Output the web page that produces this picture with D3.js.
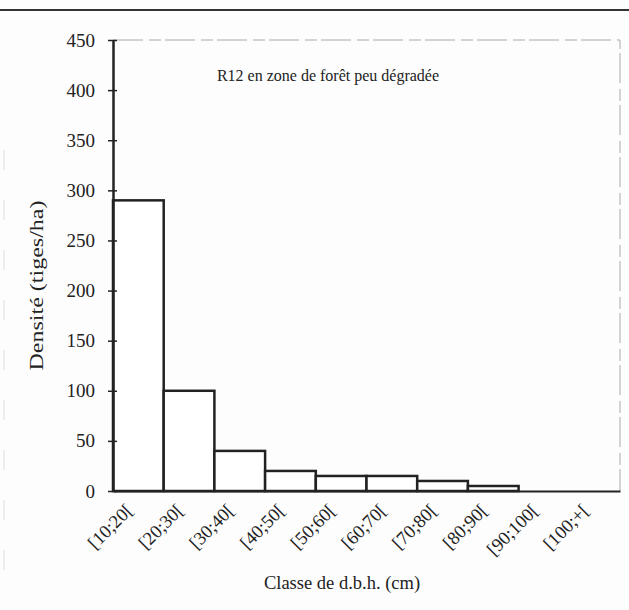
<!DOCTYPE html>
<html>
<head>
<meta charset="utf-8">
<script src="https://cdn.jsdelivr.net/npm/d3@7"></script>
<style>
	body { margin: 0; background: #fdfdfd; }
	svg { display: block; }
	text { font-family: "Liberation Serif", "Times New Roman", serif; fill: #222; }
</style>
</head>
<body>
<div id="chart"><svg width="629" height="610"></svg></div>
<script>

var classes = ["[10;20[", "[20;30[", "[30;40[", "[40;50[", "[50;60[", "[60;70[", "[70;80[", "[80;90[", "[90;100[", "[100;+["];
var densite = [290, 100, 40, 20, 15, 15, 10, 5, 0, 0];
var yTicks = [0, 50, 100, 150, 200, 250, 300, 350, 400, 450];

var titre = "R12 en zone de forêt peu dégradée";
var xTitre = "Classe de d.b.h. (cm)";
var yTitre = "Densité (tiges/ha)";

var margin = {top: 40, right: 9, bottom: 119, left: 113};
var w = 629 - margin.left - margin.right,
	h = 610 - margin.top - margin.bottom;

var svg0 = d3.select("#chart").select("svg");

// scan border lines
svg0.append("line")
	.attr("x1", 0).attr("x2", 629)
	.attr("y1", 10).attr("y2", 10)
	.style("stroke", "#333").style("stroke-width", 2);
svg0.append("line")
	.attr("x1", 4).attr("x2", 4)
	.attr("y1", 150).attr("y2", 600)
	.style("stroke", "#ddd").style("stroke-width", 1)
	.style("stroke-dasharray", "20,30");

var svg = svg0.append("g")
	.attr("transform", "translate(" + margin.left + "," + margin.top + ")");

var xrange = d3.scaleBand()
	.domain(classes)
	.range([0, w])
	.padding(0);

var yrange = d3.scaleLinear()
	.domain([0, 450])
	.range([h, 0]);

// plot frame (top and right)
svg.append("path")
	.attr("d", "M0,0H" + w + "V" + h)
	.style("fill", "none")
	.style("stroke", "#aaa")
	.style("stroke-width", 1)
	.style("stroke-dasharray", "30,6,12,4");

// bars
svg.append("g").selectAll("rect")
	.data(densite)
	.enter()
	.append("rect")
	.attr("x", function(d, i) { return xrange(classes[i]); })
	.attr("y", function(d) { return yrange(d); })
	.attr("width", xrange.bandwidth())
	.attr("height", function(d) { return h - yrange(d); })
	.style("fill", "#fff")
	.style("stroke", "#222")
	.style("stroke-width", 2.5);

// x axis
var xaxis = d3.axisBottom().scale(xrange).tickSize(0).tickSizeOuter(0);
var gx = svg.append("g")
	.attr("transform", "translate(0," + h + ")")
	.call(xaxis);
gx.select(".domain").style("stroke", "#222").style("stroke-width", 2);
gx.selectAll("text")
	.style("font-size", "18.5px")
	.style("text-anchor", "end")
	.attr("dx", "-0.2em")
	.attr("dy", "0.3em")
	.attr("transform", function() { return "translate(-8,12)rotate(-45)"; });

// y axis
var yaxis = d3.axisLeft().scale(yrange).tickValues(yTicks).tickSize(5).tickSizeOuter(0).tickPadding(13);
var gy = svg.append("g").call(yaxis);
gy.select(".domain").style("stroke", "#222").style("stroke-width", 2.5);
gy.selectAll(".tick line").attr("x1", 4).style("stroke", "#222").style("stroke-width", 1.5);
gy.selectAll("text").style("font-size", "19px");

// titles
svg.append("text")
	.attr("x", 215)
	.attr("y", 41)
	.style("text-anchor", "middle")
	.style("font-size", "16px")
	.text(titre);

svg.append("text")
	.attr("x", 229)
	.attr("y", h + 98)
	.style("text-anchor", "middle")
	.style("font-size", "18.5px")
	.text(xTitre);

svg.append("text")
	.attr("transform", "translate(-70," + (h / 2 + 20) + ")rotate(-90)")
	.style("text-anchor", "middle")
	.style("font-size", "19px")
	.attr("textLength", 170)
	.attr("lengthAdjust", "spacingAndGlyphs")
	.text(yTitre);

</script>
</body>
</html>
